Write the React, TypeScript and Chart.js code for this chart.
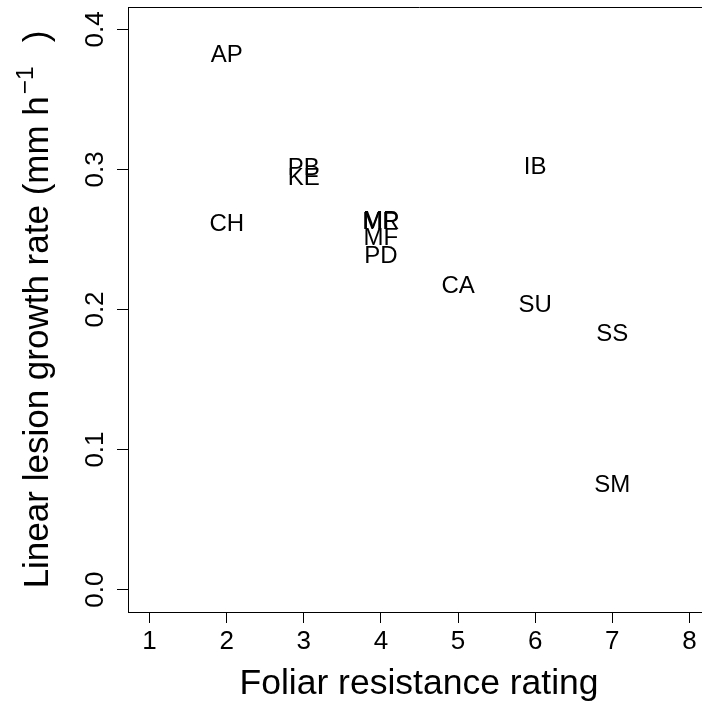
import { useEffect, useRef } from 'react';
import { Chart, registerables } from 'chart.js';

Chart.register(...registerables);

const cultivars = ['AP', 'PB', 'KE', 'CH', 'MP', 'MR', 'MF', 'PD', 'IB', 'CA', 'SU', 'SS', 'SM'];
const resistance = [2, 3, 3, 2, 4, 4, 4, 4, 6, 5, 6, 7, 7];
const growthRate = [0.383, 0.302, 0.295, 0.262, 0.2645, 0.2635, 0.252, 0.239, 0.303, 0.218, 0.204, 0.184, 0.076];

const xTicks = [1, 2, 3, 4, 5, 6, 7, 8];
const yTicks = [0.0, 0.1, 0.2, 0.3, 0.4];
const xTickLabels = ['1', '2', '3', '4', '5', '6', '7', '8'];
const yTickLabels = ['0.0', '0.1', '0.2', '0.3', '0.4'];

const xTitle = 'Foliar resistance rating';
const yTitleMain = 'Linear lesion growth rate (mm h';
const yTitleSup = '\u22121';
const yTitleEnd = ')';

const FONT = "'Liberation Sans', Arial, Helvetica, sans-serif";

const textPlugin = {
  id: 'rText',
  afterDraw(chart: any) {
    const ctx = chart.ctx as CanvasRenderingContext2D;
    const area = chart.chartArea;
    const xs = chart.scales.x;
    const ys = chart.scales.y;
    ctx.save();
    ctx.fillStyle = '#000';
    ctx.strokeStyle = '#000';
    ctx.lineWidth = 1;
    // top box line
    ctx.beginPath();
    ctx.moveTo(area.left, Math.round(area.top) + 0.5);
    ctx.lineTo(area.right, Math.round(area.top) + 0.5);
    ctx.stroke();

    // point labels
    ctx.font = `24px ${FONT}`;
    ctx.textAlign = 'center';
    ctx.textBaseline = 'alphabetic';
    const meta = chart.getDatasetMeta(0);
    meta.data.forEach((el: any, i: number) => {
      ctx.fillText(cultivars[i], el.x, el.y + 8.6);
    });

    // x tick labels
    ctx.font = `26px ${FONT}`;
    xTicks.forEach((v, i) => {
      ctx.fillText(xTickLabels[i], xs.getPixelForValue(v), 649);
    });
    // y tick labels rotated
    yTicks.forEach((v, i) => {
      ctx.save();
      ctx.translate(103, ys.getPixelForValue(v));
      ctx.rotate(-Math.PI / 2);
      ctx.textAlign = 'center';
      ctx.fillText(yTickLabels[i], 0, 0);
      ctx.restore();
    });

    // x title
    ctx.font = `35.5px ${FONT}`;
    ctx.textAlign = 'center';
    ctx.fillText(xTitle, 419, 694);

    // y title rotated with superscript
    ctx.save();
    const cy = (area.top + area.bottom) / 2;
    ctx.translate(48, cy);
    ctx.rotate(-Math.PI / 2);
    ctx.textAlign = 'left';
    ctx.font = `35px ${FONT}`;
    const wMain = ctx.measureText(yTitleMain).width;
    ctx.font = `24.5px ${FONT}`;
    const wSup = ctx.measureText(yTitleSup).width;
    ctx.font = `35px ${FONT}`;
    const wEnd = ctx.measureText(yTitleEnd).width;
    const gap1 = 2;
    const gap2 = 24;
    const total = wMain + gap1 + wSup + gap2 + wEnd;
    let x0 = -total / 2;
    ctx.fillText(yTitleMain, x0, 0);
    x0 += wMain + gap1;
    ctx.font = `24.5px ${FONT}`;
    ctx.fillText(yTitleSup, x0, -15);
    x0 += wSup + gap2;
    ctx.font = `35px ${FONT}`;
    ctx.fillText(yTitleEnd, x0, 0);
    ctx.restore();

    ctx.restore();
  },
};

export default function App() {
  const ref = useRef<HTMLCanvasElement>(null);

  useEffect(() => {
    if (!ref.current) return;
    const points = resistance.map((r, i) => ({ x: r, y: growthRate[i] }));
    const chart = new Chart(ref.current, {
      type: 'scatter',
      data: {
        datasets: [
          {
            data: points,
            pointRadius: 0,
            pointHoverRadius: 0,
            backgroundColor: '#000',
          },
        ],
      },
      options: {
        animation: false,
        responsive: false,
        events: [],
        layout: { padding: { top: 7, right: 9, left: 0, bottom: 0 } },
        plugins: { legend: { display: false }, tooltip: { enabled: false } },
        scales: {
          x: {
            type: 'linear',
            min: 0.72,
            max: 8.28,
            afterBuildTicks: (s: any) => {
              s.ticks = xTicks.map((v) => ({ value: v }));
            },
            afterFit: (s: any) => {
              s.height = 89;
            },
            ticks: { display: false },
            grid: {
              display: true,
              drawOnChartArea: false,
              drawTicks: true,
              tickLength: 11,
              color: '#000',
              lineWidth: 1,
            },
            border: { display: true, color: '#000', width: 1 },
          },
          y: {
            type: 'linear',
            min: -0.016,
            max: 0.416,
            afterBuildTicks: (s: any) => {
              s.ticks = yTicks.map((v) => ({ value: v }));
            },
            afterFit: (s: any) => {
              s.width = 128;
            },
            ticks: { display: false },
            grid: {
              display: true,
              drawOnChartArea: false,
              drawTicks: true,
              tickLength: 11,
              color: '#000',
              lineWidth: 1,
            },
            border: { display: true, color: '#000', width: 1 },
          },
        },
      },
      plugins: [textPlugin],
    });
    return () => chart.destroy();
  }, []);

  return (
    <div
      style={{
        position: 'fixed',
        left: 0,
        top: 0,
        width: 702,
        height: 701,
        overflow: 'hidden',
        background: '#fff',
      }}
    >
      <canvas ref={ref} width={720} height={701} style={{ display: 'block' }} />
    </div>
  );
}
